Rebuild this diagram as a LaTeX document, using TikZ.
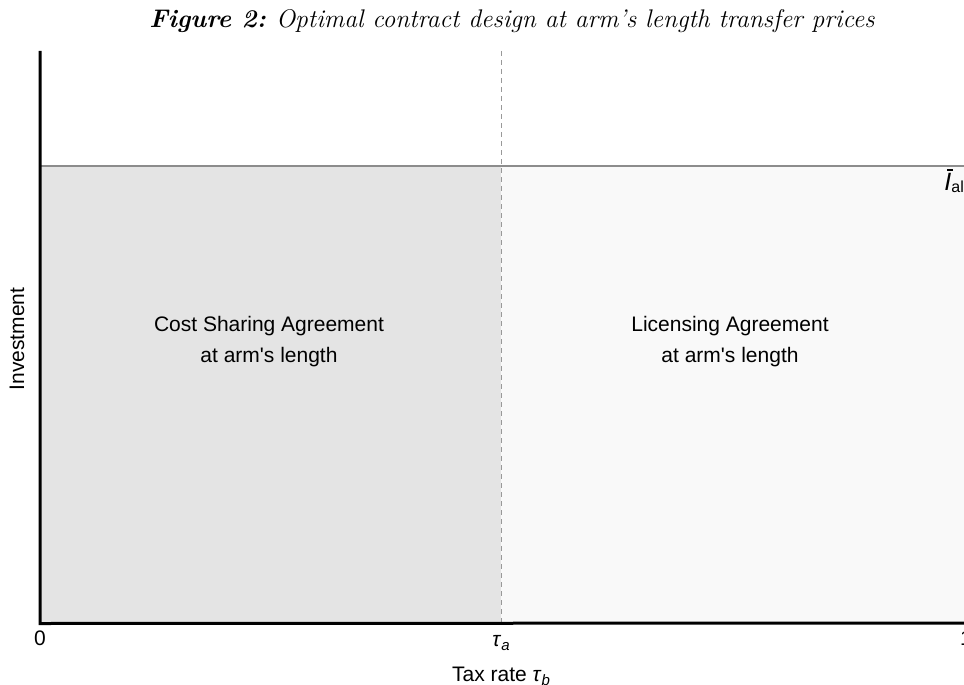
\documentclass[tikz,border=0pt]{standalone}
\usepackage{fontspec}
\newfontfamily\arial{Liberation Sans}
\begin{document}
\begin{tikzpicture}[x=1pt,y=-1pt,
  lbl/.style={font=\arial\fontsize{21}{25}\selectfont, inner sep=0pt},
  axisline/.style={line width=3pt, black},
  bound/.style={line width=2pt, color=gray!90},
  divider/.style={line width=1pt, color=gray!80, dash pattern=on 5pt off 4pt}]
\useasboundingbox (0,0) rectangle (964,685);
\fill[fill={rgb,255:red,228;green,228;blue,228}] (40,166) rectangle (501,623);
\fill[fill={rgb,255:red,249;green,249;blue,249}] (501,166) rectangle (964,623);
\coordinate (o) at (40,623);
\coordinate (ytop) at (40,51);
\coordinate (xend) at (964,623);
\coordinate (dtop) at (501,51);
\coordinate (dbot) at (501,623);
\coordinate (hl) at (40,166);
\coordinate (hr) at (964,166);
\draw[bound] (hl) -- (hr);
\draw[divider] (dtop) -- (dbot);
\draw[axisline] (ytop) -- (40,623.5) -- (xend);
\node[font=\fontsize{25.5}{30}\selectfont, inner sep=0pt] (title) at (512,21) {\textbf{\textit{Figure 2:}} \textit{Optimal contract design at arm's length transfer prices}};
\node[lbl] (c1) at (269,326) {Cost Sharing Agreement};
\node[lbl] (c2) at (269,357) {at arm's length};
\node[lbl] (l1) at (730,326) {Licensing Agreement};
\node[lbl] (l2) at (730,357) {at arm's length};
\node[lbl] (zero) at (40,638) {0};
\node[lbl] (ta) at (501,643) {\textit{τ}\raisebox{-0.35ex}{\fontsize{15}{18}\selectfont\textit{a}}};
\node[lbl, anchor=west] (one) at (960,638) {1};
\node[lbl] (xl) at (501,676) {Tax rate \textit{τ}\raisebox{-0.35ex}{\fontsize{15}{18}\selectfont\textit{b}}};
\node[lbl, rotate=90] (yl) at (17,339) {Investment};
\node[lbl, anchor=base east] (ibar) at (964,190) {{\fontsize{25}{28}\selectfont\rlap{\kern2.8pt\rule[0.76em]{6pt}{1.6pt}}\textit{I}}\raisebox{-0.2ex}{\fontsize{16}{18}\selectfont al}};
\end{tikzpicture}
\end{document}
